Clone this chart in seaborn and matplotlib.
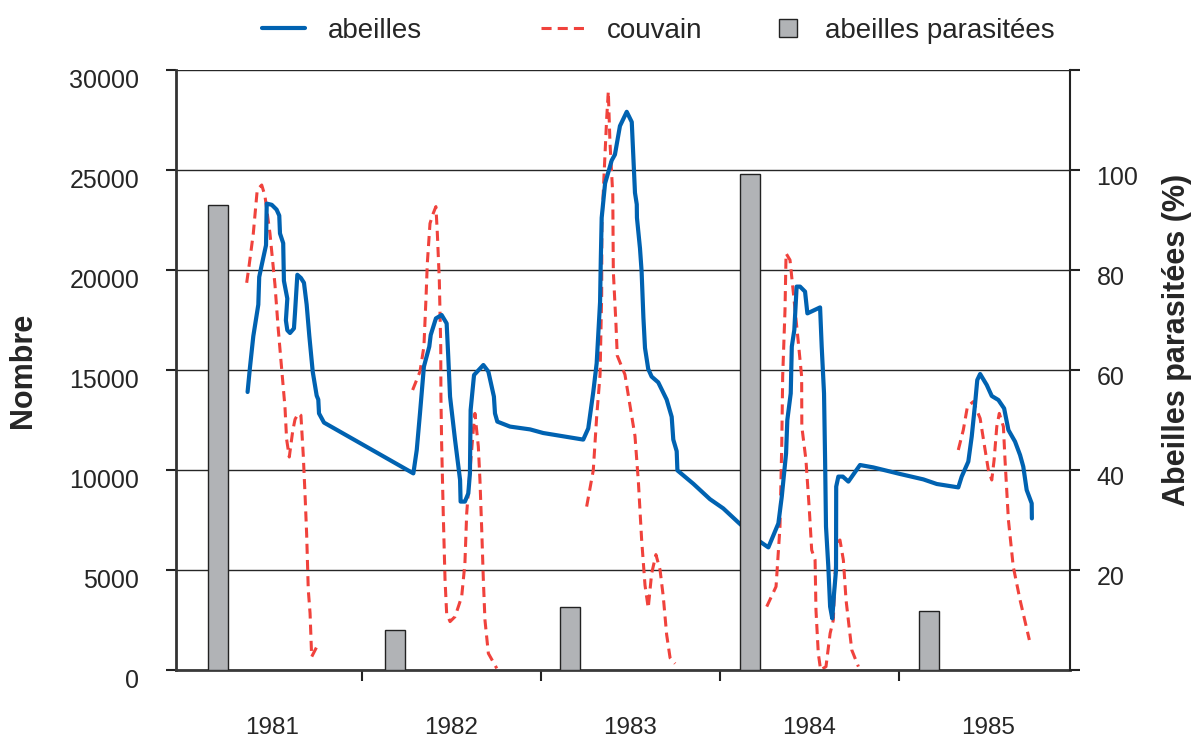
import matplotlib
matplotlib.use("Agg")
import matplotlib.pyplot as plt
import matplotlib.transforms as mtransforms
from matplotlib.lines import Line2D
import pandas as pd
import seaborn as sns

# abeilles (nombre) - dates en années décimales
t_abeilles = [1981.361, 1981.374, 1981.393, 1981.421, 1981.426, 1981.440, 1981.464, 1981.468,
              1981.496, 1981.523, 1981.538, 1981.542, 1981.560, 1981.564, 1981.583, 1981.575,
              1981.583, 1981.598, 1981.620, 1981.626, 1981.639, 1981.659, 1981.676, 1981.691,
              1981.706, 1981.725, 1981.747, 1981.756, 1981.760, 1981.788,
              1982.287, 1982.306, 1982.324, 1982.346, 1982.376, 1982.384, 1982.413, 1982.445,
              1982.473, 1982.482, 1982.492, 1982.520, 1982.548, 1982.551, 1982.575, 1982.594,
              1982.603, 1982.607, 1982.626, 1982.678, 1982.706, 1982.737, 1982.743, 1982.756,
              1982.827, 1982.939, 1983.012,
              1983.236, 1983.264, 1983.292, 1983.311, 1983.330, 1983.334, 1983.339, 1983.358,
              1983.395, 1983.413, 1983.441, 1983.479, 1983.507, 1983.516, 1983.525, 1983.535,
              1983.536, 1983.553, 1983.562, 1983.572, 1983.581, 1983.599, 1983.618, 1983.655,
              1983.702, 1983.730, 1983.739, 1983.758, 1983.762, 1983.851, 1983.944,
              1984.018, 1984.108, 1984.223, 1984.270, 1984.326, 1984.345, 1984.369, 1984.376,
              1984.395, 1984.401, 1984.415, 1984.428, 1984.447, 1984.475, 1984.488, 1984.559,
              1984.568, 1984.581, 1984.587, 1984.592, 1984.605, 1984.615, 1984.627, 1984.637,
              1984.648, 1984.649, 1984.661, 1984.686, 1984.717, 1984.782, 1984.856,
              1985.006, 1985.136, 1985.211, 1985.331, 1985.350, 1985.387, 1985.406, 1985.425,
              1985.437, 1985.453, 1985.490, 1985.518, 1985.555, 1985.587, 1985.611, 1985.648,
              1985.676, 1985.694, 1985.713, 1985.741, 1985.742]
abeilles = [13900, 15100, 16690, 18270, 19650, 20250, 21240, 23320,
            23260, 23020, 22720, 21830, 21340, 19460, 18570, 17480,
            16990, 16850, 17080, 17870, 19760, 19600, 19360, 18270,
            16690, 14910, 13720, 13520, 12830, 12370,
            9830, 11000, 12830, 15170, 16170, 16750, 17580, 17750,
            17330, 15670, 13670, 11500, 9500, 8420, 8420, 8830,
            9830, 13000, 14750, 15250, 14920, 13670, 12830, 12420,
            12170, 12030, 11850,
            11520, 12080, 13900, 15340, 18400, 20500, 22610, 24330,
            25480, 25770, 27200, 27910, 27400, 25680, 23860, 23280,
            22610, 21080, 19930, 17630, 16100, 15050, 14670, 14380,
            13520, 12660, 11520, 10940, 9980, 9310, 8540,
            8080, 7330, 6420, 6130, 7330, 8670, 10830, 12500,
            13830, 16170, 17000, 19170, 19170, 18920, 17830, 18130,
            16170, 13830, 10500, 7170, 5170, 3170, 2580, 3830,
            5000, 9170, 9670, 9670, 9420, 10250, 10130,
            9800, 9530, 9300, 9130, 9670, 10420, 11670, 13330,
            14500, 14800, 14250, 13700, 13500, 13080, 12000, 11420,
            10750, 10170, 9000, 8330, 7580]

# couvain, une courbe par saison
t_couvain_1981 = [1981.356, 1981.370, 1981.393, 1981.415, 1981.440, 1981.458, 1981.486, 1981.514,
                  1981.532, 1981.551, 1981.570, 1981.579, 1981.594, 1981.613, 1981.626, 1981.644,
                  1981.659, 1981.672, 1981.682, 1981.691, 1981.700, 1981.710, 1981.719, 1981.747]
couvain_1981 = [19360, 20250, 21830, 24010, 24250, 23710, 21830, 19260,
                17080, 15100, 13130, 11540, 10650, 11940, 12530, 12830,
                12730, 10750, 8770, 6790, 4020, 2840, 660, 1150]

t_couvain_1982 = [1982.283, 1982.324, 1982.346, 1982.358, 1982.365, 1982.380, 1982.398, 1982.413,
                  1982.421, 1982.432, 1982.440, 1982.441, 1982.445, 1982.454, 1982.464, 1982.473,
                  1982.492, 1982.520, 1982.557, 1982.575, 1982.585, 1982.599, 1982.622, 1982.631,
                  1982.650, 1982.659, 1982.669, 1982.678, 1982.687, 1982.706, 1982.753]
couvain_1982 = [14000, 14920, 16170, 18670, 20330, 22330, 22830, 23170,
                21830, 19500, 16170, 13670, 11330, 7830, 4500, 2830,
                2420, 2670, 3670, 5330, 7830, 9500, 12000, 12830,
                11170, 9500, 7000, 4500, 2500, 830, 80]

t_couvain_1983 = [1983.255, 1983.292, 1983.311, 1983.330, 1983.339, 1983.340, 1983.352, 1983.367,
                  1983.376, 1983.385, 1983.401, 1983.404, 1983.419, 1983.426, 1983.469, 1983.497,
                  1983.525, 1983.544, 1983.562, 1983.581, 1983.599, 1983.618, 1983.642, 1983.665,
                  1983.683, 1983.702, 1983.721, 1983.749]
couvain_1983 = [8170, 9980, 12660, 14770, 18790, 22230, 24720, 27590,
                28930, 26440, 23760, 19930, 17250, 15720, 14770, 13230,
                11700, 9410, 6540, 4240, 3100, 4820, 5770, 5010,
                3670, 1760, 610, 320]

t_couvain_1984 = [1984.261, 1984.313, 1984.335, 1984.345, 1984.350, 1984.363, 1984.369, 1984.391,
                  1984.410, 1984.438, 1984.456, 1984.457, 1984.480, 1984.499, 1984.512, 1984.531,
                  1984.536, 1984.549, 1984.562, 1984.592, 1984.615, 1984.633, 1984.642, 1984.652,
                  1984.670, 1984.689, 1984.704, 1984.736, 1984.773]
couvain_1984 = [3170, 4170, 7170, 11330, 14670, 18000, 20830, 20500,
                18830, 16330, 14670, 12170, 10500, 8000, 6000, 5500,
                3000, 830, 0, 170, 1830, 2500, 4670, 6330,
                6500, 5500, 3500, 1000, 170]

t_couvain_1985 = [1985.331, 1985.359, 1985.382, 1985.415, 1985.453, 1985.475, 1985.499, 1985.518,
                  1985.531, 1985.546, 1985.560, 1985.583, 1985.592, 1985.611, 1985.638, 1985.676,
                  1985.728]
couvain_1985 = [11000, 12000, 13170, 13420, 12580, 11330, 10000, 9500,
                10500, 12170, 12830, 12170, 10500, 7500, 5170, 3500,
                1500]

# abeilles parasitées (%)
t_parasitees = [1981.196, 1982.184, 1983.162, 1984.165, 1985.165]
parasitees = [93.1, 8.0, 12.5, 99.3, 11.7]

annees = ["1981", "1982", "1983", "1984", "1985"]

bleu = "#0062b1"
rouge = "#f0423c"
gris = "#b1b3b6"

sns.set_theme(style="white")
plt.rcParams["font.family"] = ["Liberation Sans", "DejaVu Sans"]

couvain = pd.concat([
    pd.DataFrame({"t": t_couvain_1981, "n": couvain_1981, "saison": 1981}),
    pd.DataFrame({"t": t_couvain_1982, "n": couvain_1982, "saison": 1982}),
    pd.DataFrame({"t": t_couvain_1983, "n": couvain_1983, "saison": 1983}),
    pd.DataFrame({"t": t_couvain_1984, "n": couvain_1984, "saison": 1984}),
    pd.DataFrame({"t": t_couvain_1985, "n": couvain_1985, "saison": 1985}),
])

fig = plt.figure(figsize=(11.93, 7.40), dpi=100)
ax1 = fig.add_axes([0.1475, 0.0946, 0.7494, 0.8108])
ax2 = ax1.twinx()

sns.lineplot(data=couvain, x="t", y="n", units="saison", estimator=None, sort=False,
             color=rouge, lw=2.2, linestyle=(0, (3.3, 2.0)), ax=ax1)
sns.lineplot(x=t_abeilles, y=abeilles, estimator=None, sort=False,
             color=bleu, lw=3.0, ax=ax1)

sns.barplot(x=t_parasitees, y=parasitees, native_scale=True, orient="x",
            width=0.112 / 0.978, color=gris, saturation=1, errorbar=None,
            edgecolor="#222222", linewidth=1.0, ax=ax2)

# axe gauche
ax1.set_ylim(0, 30000)
ax1.set_yticks(range(0, 30001, 5000))
ax1.yaxis.grid(True, color="#262626", lw=1.0)
ax1.xaxis.grid(False)
ax1.set_ylabel("Nombre", fontsize=22, fontweight="bold")
ax1.yaxis.set_label_coords(-0.154, 0.5)
ax1.tick_params(axis="y", direction="out", length=7.5, width=1.5, color="#222222",
                labelsize=18, pad=19, left=True)
off_g = mtransforms.ScaledTranslation(0, -8.5 / 100, fig.dpi_scale_trans)
for lab in ax1.get_yticklabels():
    lab.set_transform(lab.get_transform() + off_g)

# axe des années
ax1.set_xlim(1980.961, 1985.955)
ax1.set_xticks([1982, 1983, 1984, 1985])
ax1.set_xticklabels([])
ax1.set_xticks([1981.5, 1982.5, 1983.5, 1984.5, 1985.5], minor=True)
ax1.set_xticklabels(annees, minor=True)
ax1.tick_params(axis="x", which="major", direction="out", length=8, width=1.5,
                color="#222222", bottom=True)
ax1.tick_params(axis="x", which="minor", length=0, labelsize=17.5, pad=34)
ax1.set_xlabel("")

# axe droit
ax2.set_ylim(0, 120)
ax2.set_yticks(range(0, 121, 20))
ax2.set_yticklabels(["", "20", "40", "60", "80", "100", ""])
ax2.tick_params(axis="y", direction="out", length=7, width=1.5, color="#222222",
                labelsize=18, pad=12, right=True)
off_d = mtransforms.ScaledTranslation(0, -5.5 / 100, fig.dpi_scale_trans)
for lab in ax2.get_yticklabels():
    lab.set_transform(lab.get_transform() + off_d)
ax2.set_ylabel("Abeilles parasitées (%)", fontsize=22, fontweight="bold")
ax2.yaxis.set_label_coords(1.103, 0.55)
ax2.set_xlim(1980.961, 1985.955)

for ax in (ax1, ax2):
    ax.spines["top"].set_visible(False)
ax1.spines["left"].set_color("#333333")
ax1.spines["left"].set_linewidth(2.0)
ax1.spines["bottom"].set_color("#3a3a3a")
ax1.spines["bottom"].set_linewidth(2.0)
ax2.spines["right"].set_color("#222222")
ax2.spines["right"].set_linewidth(1.5)
ax2.spines["left"].set_visible(False)
ax2.spines["bottom"].set_visible(False)
ax2.grid(False)

# légende en deux morceaux pour garder l'espacement de l'original
leg_y = 0.9757
fig.legend(
    [Line2D([], [], color=bleu, lw=3.0),
     Line2D([], [], color=rouge, lw=2.2, linestyle=(0, (3.3, 2.0)))],
    ["abeilles", "couvain"],
    loc="upper left", bbox_to_anchor=(262 / 1193, leg_y), ncol=2, frameon=False,
    fontsize=20, handlelength=1.55, handletextpad=0.83, columnspacing=4.28,
    borderpad=0, borderaxespad=0)
fig.legend(
    [Line2D([], [], linestyle="none", marker="s", markersize=13,
            markerfacecolor=gris, markeredgecolor="#222222", markeredgewidth=1.0)],
    ["abeilles parasitées"],
    loc="upper left", bbox_to_anchor=(766.5 / 1193, leg_y), frameon=False,
    fontsize=20, handlelength=1.55, handletextpad=0.56,
    borderpad=0, borderaxespad=0)

fig.savefig("out.png", dpi=100)
